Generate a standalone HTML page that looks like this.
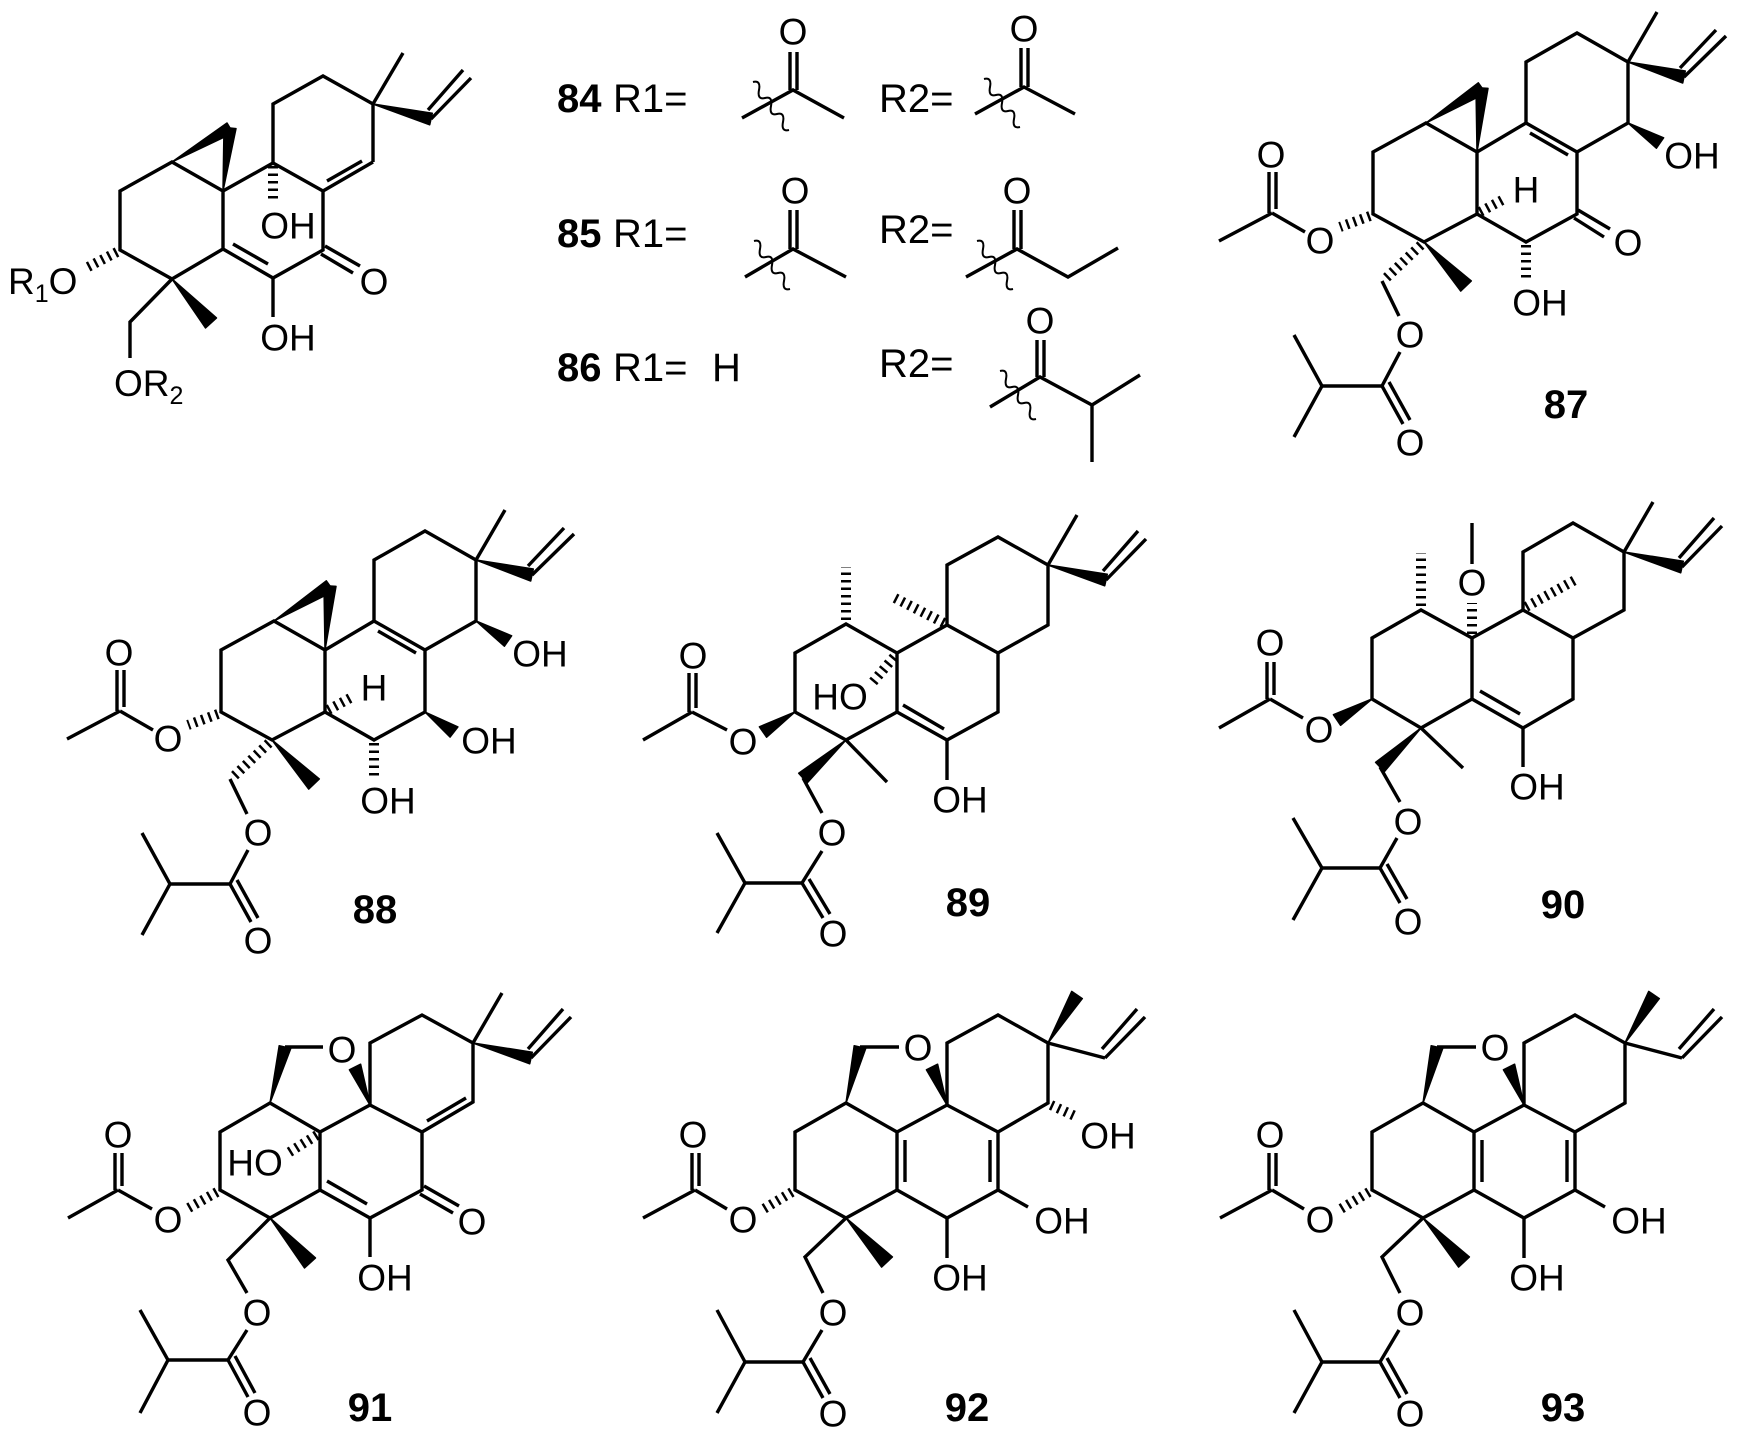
<!DOCTYPE html>
<html><head><meta charset="utf-8"><style>
html,body{margin:0;padding:0;background:#fff}
svg{display:block}
line,path,polyline{stroke:#000;stroke-width:3.4;fill:none}
.h{stroke-width:10;stroke-dasharray:2.5 5}
polygon{fill:#000;stroke:#000;stroke-width:1.5;stroke-linejoin:round}
text{font-family:"Liberation Sans",Arial,sans-serif;font-size:37px;fill:#000;text-anchor:middle;dominant-baseline:central}
.n{font-weight:bold;font-size:40px}
.t{font-size:40px;text-anchor:start;dominant-baseline:alphabetic}
</style></head><body>
<svg width="1743" height="1455" viewBox="0 0 1743 1455" xmlns="http://www.w3.org/2000/svg">
<rect width="1743" height="1455" fill="#fff"/>

<!-- ===== 84-86 core ===== -->
<g>
<path d="M120,191 L120,250 L172,279 L223,249 L223,191 L172,162 Z"/>
<polygon points="172,162 233,133 227,123"/>
<polygon points="223,191 236,128.6 224,127.4"/>
<polyline points="223,191 273,163 323,191 323,250 273,278 223,249"/>
<line x1="233" y1="244" x2="268" y2="264"/>
<line x1="323" y1="191" x2="373" y2="162"/><line x1="327" y1="181" x2="362" y2="161"/>
<polyline points="373,162 373,104 323,76 273,104 273,163"/>
<line x1="373" y1="104" x2="403" y2="53"/>
<polygon points="373,104 429.7,124.8 432.3,113.2"/>
<line x1="431" y1="119" x2="471" y2="78"/><line x1="428" y1="110" x2="463" y2="70"/>
<line x1="325" y1="246" x2="360" y2="266"/><line x1="321" y1="254" x2="353" y2="273"/>
<text x="374" y="282">O</text>
<line x1="273" y1="278" x2="273" y2="317"/><text x="288" y="338">OH</text>
<line class="h" x1="273" y1="166" x2="273" y2="200"/><text x="288" y="226">OH</text>
<line class="h" x1="117" y1="252" x2="88" y2="267"/>
<text class="t" x="8" y="294" style="font-size:37px">R<tspan font-size="25" dy="8">1</tspan><tspan dy="-8">O</tspan></text>
<polygon points="172,279 205.5,328 216.5,318"/>
<polyline points="172,279 130,322 130,358"/>
<text class="t" x="114" y="396" style="font-size:37px">OR<tspan font-size="25" dy="8">2</tspan></text>
</g>

<!-- ===== R tables ===== -->
<g>
<text class="t" x="557" y="112" font-weight="bold">84</text><text class="t" x="613" y="112">R1=</text>
<polyline points="742,118 793,90 844,118"/><line x1="790" y1="90" x2="790" y2="52"/><line x1="797" y1="90" x2="797" y2="52"/>
<text x="793" y="32">O</text>
<path d="M753,82 q8,-2 6,8 t6,8 t6,8 t6,8 t6,8 t6,8" style="stroke-width:2"/>
<text class="t" x="879" y="112">R2=</text>
<polyline points="975,114 1024,87 1075,114"/><line x1="1021" y1="87" x2="1021" y2="48"/><line x1="1028" y1="87" x2="1028" y2="48"/>
<text x="1024" y="29">O</text>
<path d="M984,79 q8,-2 6,8 t6,8 t6,8 t6,8 t6,8 t6,8" style="stroke-width:2"/>

<text class="t" x="557" y="247" font-weight="bold">85</text><text class="t" x="613" y="247">R1=</text>
<polyline points="745,277 793,249 846,277"/><line x1="790" y1="249" x2="790" y2="210"/><line x1="797" y1="249" x2="797" y2="210"/>
<text x="795" y="191">O</text>
<path d="M754,241 q8,-2 6,8 t6,8 t6,8 t6,8 t6,8 t6,8" style="stroke-width:2"/>
<text class="t" x="879" y="243">R2=</text>
<polyline points="966,277 1017,249 1068,277 1118,248"/><line x1="1014" y1="249" x2="1014" y2="210"/><line x1="1021" y1="249" x2="1021" y2="210"/>
<text x="1017" y="191">O</text>
<path d="M977,241 q8,-2 6,8 t6,8 t6,8 t6,8 t6,8 t6,8" style="stroke-width:2"/>

<text class="t" x="557" y="381" font-weight="bold">86</text><text class="t" x="613" y="381">R1=</text>
<text class="t" x="712" y="381">H</text>
<text class="t" x="879" y="377">R2=</text>
<polyline points="990,407 1040,377 1092,405 1140,375"/><line x1="1092" y1="405" x2="1092" y2="462"/>
<line x1="1037" y1="377" x2="1037" y2="340"/><line x1="1044" y1="377" x2="1044" y2="340"/>
<text x="1040" y="321">O</text>
<path d="M1000,371 q8,-2 6,8 t6,8 t6,8 t6,8 t6,8 t6,8" style="stroke-width:2"/>
</g>

<!-- ===== 87 / 88 common ===== -->
<g id="s87">
<path d="M1373,152 L1373,214 L1424,242 L1477,214 L1477,152 L1426,123 Z"/>
<polygon points="1426,123 1485.7,93.2 1478.3,82.8"/>
<polygon points="1477,152 1488,88.4 1476,87.6"/>
<polyline points="1477,152 1526,123 1577,152 1577,214 1526,242 1477,214"/>
<line x1="1530" y1="133" x2="1568" y2="155"/>
<polyline points="1526,123 1526,62 1577,33 1628,62 1628,123 1577,152"/>
<line x1="1628" y1="62" x2="1657" y2="12"/>
<polygon points="1628,62 1682.7,83 1685.3,71"/>
<line x1="1684" y1="77" x2="1726" y2="36"/><line x1="1680" y1="68" x2="1716" y2="30"/>
<polygon points="1628,123 1656.4,148.2 1663.6,137.8"/><text x="1692" y="156">OH</text>
<line class="h" x1="1526" y1="245" x2="1526" y2="279"/><text x="1540" y="303">OH</text>
<line class="h" x1="1480" y1="212" x2="1506" y2="198"/><text x="1526" y="190">H</text>
<line class="h" x1="1370" y1="216" x2="1340" y2="227"/><text x="1320" y="241">O</text>
<line x1="1305" y1="232" x2="1272" y2="213"/>
<line x1="1269" y1="213" x2="1269" y2="172"/><line x1="1276" y1="209" x2="1276" y2="172"/>
<text x="1271" y="155">O</text>
<line x1="1272" y1="213" x2="1219" y2="241"/>
<polygon points="1424,242 1460.7,291.1 1471.3,280.9"/>
<line class="h" x1="1421" y1="245" x2="1384" y2="280"/>
<line x1="1382" y1="281" x2="1399" y2="316"/>
<text x="1410" y="335">O</text>
<line x1="1400" y1="352" x2="1382" y2="386"/>
<line x1="1382" y1="386" x2="1403" y2="424"/><line x1="1389" y1="382" x2="1410" y2="420"/>
<text x="1410" y="443">O</text>
<polyline points="1294,335 1322,386 1294,437"/><line x1="1322" y1="386" x2="1382" y2="386"/>
</g>
<!-- 87 specific -->
<line x1="1578" y1="210" x2="1610" y2="229"/><line x1="1574" y1="218" x2="1604" y2="237"/>
<text x="1628" y="243">O</text>
<text class="n" x="1566" y="405">87</text>
<!-- 88 -->
<g transform="translate(-1152,498)">
<use href="#s87"/>
<polygon points="1577,214 1602.1,239.1 1609.9,228.9"/>
<text x="1641" y="243">OH</text>
</g>
<text class="n" x="375" y="910">88</text>

<!-- ===== 89 ===== -->
<g>
<path d="M795,653 L795,712 L846,740 L897,712 L897,653 L846,624 Z"/>
<line class="h" x1="846" y1="620" x2="846" y2="567"/>
<polyline points="897,653 947,625 998,653 998,712 947,740 897,712"/>
<line x1="903" y1="705" x2="944" y2="729"/>
<line class="h" x1="944" y1="623" x2="893" y2="597"/>
<polyline points="947,625 947,565 998,537 1048,565 1048,625 998,653"/>
<line x1="1048" y1="565" x2="1077" y2="515"/>
<polygon points="1048,565 1104.7,585.8 1107.3,574.2"/>
<line x1="1106" y1="580" x2="1146" y2="539"/><line x1="1103" y1="571" x2="1138" y2="531"/>
<line class="h" x1="894" y1="657" x2="873" y2="682"/><text x="840" y="697">HO</text>
<line x1="947" y1="740" x2="947" y2="780"/><text x="960" y="800">OH</text>
<polygon points="795,712 759.4,726.8 766.6,737.2"/><text x="743" y="742">O</text>
<line x1="727" y1="730" x2="692" y2="712"/>
<line x1="689" y1="712" x2="689" y2="673"/><line x1="696" y1="708" x2="696" y2="673"/>
<text x="693" y="656">O</text>
<line x1="692" y1="712" x2="643" y2="740"/>
<polygon points="846,740 798.7,773.2 807.3,782.8"/>
<line x1="846" y1="740" x2="887" y2="782"/>
<line x1="803" y1="778" x2="822" y2="813"/><text x="832" y="833">O</text>
<line x1="822" y1="851" x2="802" y2="883"/>
<line x1="802" y1="883" x2="823" y2="918"/><line x1="809" y1="879" x2="830" y2="914"/>
<text x="833" y="934">O</text>
<polyline points="717,833 745,883 717,933"/><line x1="745" y1="883" x2="802" y2="883"/>
<text class="n" x="968" y="903">89</text>
</g>

<!-- ===== 90 ===== -->
<g>
<path d="M1372,638 L1372,699 L1421,728 L1472,699 L1472,638 L1421,610 Z"/>
<line class="h" x1="1421" y1="606" x2="1421" y2="553"/>
<line class="h" x1="1472" y1="634" x2="1472" y2="603"/><text x="1472" y="583">O</text>
<line x1="1472" y1="564" x2="1472" y2="523"/>
<polyline points="1472,638 1523,610 1573,638 1573,699 1523,728 1472,699"/>
<line x1="1480" y1="691" x2="1520" y2="714"/>
<line class="h" x1="1526" y1="607" x2="1575" y2="580"/>
<polyline points="1523,610 1523,552 1573,523 1624,552 1624,610 1573,638"/>
<line x1="1624" y1="552" x2="1653" y2="502"/>
<polygon points="1624,552 1680.7,572.8 1683.3,561.2"/>
<line x1="1682" y1="567" x2="1722" y2="526"/><line x1="1679" y1="558" x2="1714" y2="518"/>
<line x1="1523" y1="728" x2="1523" y2="767"/><text x="1537" y="787">OH</text>
<polygon points="1372,699 1333.4,714.7 1340.6,725.3"/><text x="1319" y="730">O</text>
<line x1="1303" y1="718" x2="1270" y2="699"/>
<line x1="1267" y1="699" x2="1267" y2="662"/><line x1="1274" y1="695" x2="1274" y2="662"/>
<text x="1270" y="643">O</text>
<line x1="1270" y1="699" x2="1219" y2="728"/>
<polygon points="1421,728 1375.6,762.4 1384.4,771.6"/>
<line x1="1421" y1="728" x2="1463" y2="768"/>
<line x1="1380" y1="767" x2="1400" y2="802"/><text x="1408" y="822">O</text>
<line x1="1397" y1="838" x2="1380" y2="868"/>
<line x1="1380" y1="868" x2="1400" y2="903"/><line x1="1387" y1="864" x2="1407" y2="899"/>
<text x="1408" y="922">O</text>
<polyline points="1293,818 1322,868 1293,920"/><line x1="1322" y1="868" x2="1380" y2="868"/>
<text class="n" x="1563" y="905">90</text>
</g>

<!-- ===== 91 ===== -->
<g>
<path d="M220,1132 L220,1190 L270,1218 L320,1190 L320,1132 L270,1103 Z"/>
<polygon points="270,1103 290.8,1048.3 279.2,1045.7"/>
<line x1="285" y1="1047" x2="323" y2="1047"/><text x="342" y="1050">O</text>
<polygon points="370,1105 360.6,1064.2 349.4,1069.8"/>
<polyline points="320,1132 370,1105 370,1043 422,1015 473,1043 473,1102 422,1132 370,1105"/>
<line x1="427" y1="1121" x2="466" y2="1098"/>
<polyline points="422,1132 422,1190 370,1218 320,1190"/>
<line x1="327" y1="1181" x2="367" y2="1204"/>
<line x1="424" y1="1186" x2="459" y2="1206"/><line x1="420" y1="1194" x2="453" y2="1213"/>
<text x="472" y="1222">O</text>
<line x1="370" y1="1218" x2="370" y2="1257"/><text x="385" y="1278">OH</text>
<line class="h" x1="317" y1="1135" x2="288" y2="1153"/><text x="255" y="1163">HO</text>
<line class="h" x1="217" y1="1192" x2="185" y2="1210"/><text x="168" y="1220">O</text>
<line x1="152" y1="1209" x2="118" y2="1190"/>
<line x1="115" y1="1190" x2="115" y2="1153"/><line x1="122" y1="1186" x2="122" y2="1153"/>
<text x="118" y="1135">O</text>
<line x1="118" y1="1190" x2="68" y2="1218"/>
<polygon points="270,1218 304.5,1268 315.5,1258"/>
<polyline points="270,1218 228,1260 247,1293"/><text x="257" y="1313">O</text>
<line x1="247" y1="1330" x2="228" y2="1360"/>
<line x1="228" y1="1360" x2="248" y2="1397"/><line x1="235" y1="1356" x2="255" y2="1393"/>
<text x="257" y="1413">O</text>
<polyline points="140,1310 168,1360 140,1413"/><line x1="168" y1="1360" x2="228" y2="1360"/>
<line x1="473" y1="1043" x2="502" y2="993"/>
<polygon points="473,1043 529.7,1063.8 532.3,1052.2"/>
<line x1="531" y1="1058" x2="571" y2="1017"/><line x1="528" y1="1049" x2="563" y2="1009"/>
<text class="n" x="370" y="1408">91</text>
</g>

<!-- ===== 92 / 93 common ===== -->
<g id="s92">
<path d="M795,1132 L795,1190 L846,1218 L897,1190 L897,1132 L846,1103 Z"/>
<polygon points="846,1103 865.8,1048.3 854.2,1045.7"/>
<line x1="860" y1="1047" x2="899" y2="1047"/><text x="918" y="1048">O</text>
<polygon points="947,1105 937.6,1064.2 926.4,1069.8"/>
<line x1="905" y1="1140" x2="905" y2="1182"/>
<polyline points="897,1132 947,1105 998,1132 998,1190 947,1218 897,1190"/>
<line x1="990" y1="1140" x2="990" y2="1182"/>
<polyline points="947,1105 947,1043 998,1015 1048,1043 1048,1103 998,1132"/>
<polygon points="1048,1043 1082.3,998.6 1071.7,991.4"/>
<line x1="1048" y1="1043" x2="1105" y2="1058"/>
<line x1="1105" y1="1058" x2="1145" y2="1017"/><line x1="1102" y1="1049" x2="1137" y2="1009"/>
<line x1="998" y1="1190" x2="1028" y2="1207"/><text x="1062" y="1221">OH</text>
<line x1="947" y1="1218" x2="947" y2="1258"/><text x="960" y="1278">OH</text>
<line class="h" x1="792" y1="1192" x2="762" y2="1210"/><text x="743" y="1220">O</text>
<line x1="727" y1="1209" x2="695" y2="1190"/>
<line x1="692" y1="1190" x2="692" y2="1153"/><line x1="699" y1="1186" x2="699" y2="1153"/>
<text x="693" y="1135">O</text>
<line x1="695" y1="1190" x2="643" y2="1218"/>
<polygon points="846,1218 881.6,1267.1 892.4,1256.9"/>
<polyline points="846,1218 805,1257 823,1293"/><text x="833" y="1313">O</text>
<line x1="822" y1="1330" x2="803" y2="1362"/>
<line x1="803" y1="1362" x2="823" y2="1398"/><line x1="810" y1="1358" x2="830" y2="1394"/>
<text x="833" y="1414">O</text>
<polyline points="717,1310 745,1362 717,1413"/><line x1="745" y1="1362" x2="803" y2="1362"/>
</g>
<line class="h" x1="1051" y1="1105" x2="1077" y2="1117"/><text x="1108" y="1136">OH</text>
<text class="n" x="967" y="1408">92</text>
<g transform="translate(577,0)"><use href="#s92"/></g>
<text class="n" x="1563" y="1408">93</text>
</svg>
</body></html>
